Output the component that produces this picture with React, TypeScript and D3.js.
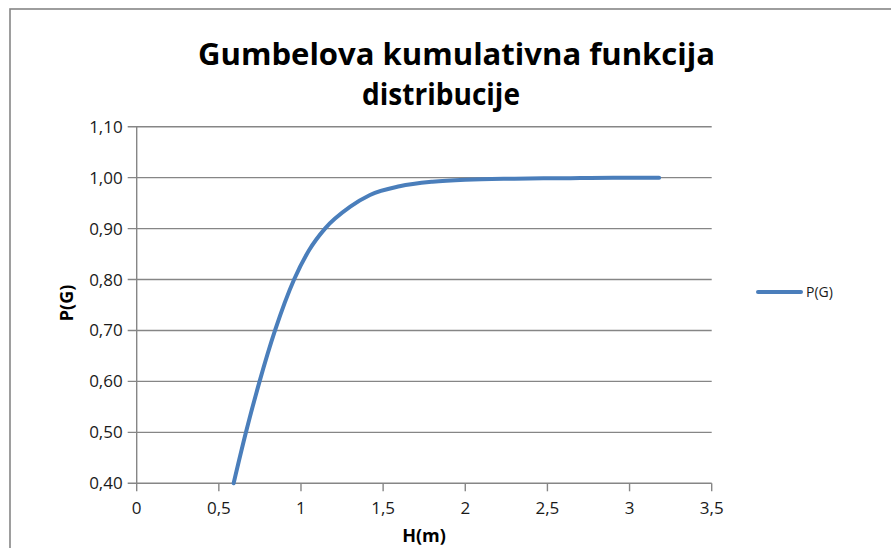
import React from "react";
import * as d3 from "d3";

const hValues = [0.59, 0.665, 0.748, 0.842, 0.958, 1.05, 1.146, 1.3, 1.42, 1.6, 1.8, 2.0, 2.3, 2.6, 2.9, 3.18];
const pValues = [0.4, 0.5, 0.6, 0.7, 0.8, 0.858, 0.9, 0.943, 0.966, 0.983, 0.992, 0.996, 0.998, 0.999, 1.0, 1.0];
const xTicks = [0, 0.5, 1, 1.5, 2, 2.5, 3, 3.5];
const yTicks = [0.4, 0.5, 0.6, 0.7, 0.8, 0.9, 1.0, 1.1];
const titleLines = ["Gumbelova kumulativna funkcija", "distribucije"];
const seriesName = "P(G)";
const xTitle = "H(m)";
const yTitle = "P(G)";

const W = 891;
const H = 548;
const left = 136.7;
const right = 711.7;
const top = 126.7;
const bottom = 483.3;

const fmtComma = (v: number, d: number) => v.toFixed(d).replace(".", ",");
const fmtX = (v: number) => String(v).replace(".", ",");

export default function App() {
  const x = d3.scaleLinear().domain([0, 3.5]).range([left, right]);
  const y = d3.scaleLinear().domain([0.4, 1.1]).range([bottom, top]);
  const pts = hValues.map((h, i) => [h, pValues[i]] as [number, number]);
  const line = d3
    .line<[number, number]>()
    .x((d) => x(d[0]))
    .y((d) => y(d[1]))
    .curve(d3.curveMonotoneX);
  const grid = "#868686";
  const font = "'Open Sans', 'DejaVu Sans', sans-serif";
  const textColor = "#1a1a1a";
  return (
    <svg
      width={W}
      height={H}
      style={{ position: "absolute", left: 0, top: 0, background: "#fff" }}
      fontFamily={font}
    >
      <rect x={0} y={0} width={W} height={H} fill="#fff" />
      <rect x={10} y={9} width={950} height={600} fill="none" stroke={grid} strokeWidth={1.6} />
      <text textAnchor="start" fontWeight="bold" fontSize={31} fill="#000">
        <tspan x={198} y={65} textLength={517} lengthAdjust="spacingAndGlyphs">{titleLines[0]}</tspan>
        <tspan x={362} y={105} textLength={158} lengthAdjust="spacingAndGlyphs">{titleLines[1]}</tspan>
      </text>
      {yTicks.map((t) => (
        <g key={"y" + t}>
          <line x1={left - 9} x2={right} y1={y(t)} y2={y(t)} stroke={grid} strokeWidth={1.4} />
          <text x={left - 14} y={y(t) + 6} textAnchor="end" fontSize={17} fill={textColor}>
            {fmtComma(t, 2)}
          </text>
        </g>
      ))}
      <line x1={left} x2={left} y1={top} y2={bottom} stroke={grid} strokeWidth={1.4} />
      {xTicks.map((t) => (
        <g key={"x" + t}>
          <line x1={x(t)} x2={x(t)} y1={bottom} y2={bottom + 8} stroke={grid} strokeWidth={1.4} />
          <text x={x(t)} y={bottom + 31} textAnchor="middle" fontSize={17} fill={textColor}>
            {fmtX(t)}
          </text>
        </g>
      ))}
      <path d={line(pts) || ""} fill="none" stroke="#4a7ebb" strokeWidth={4} strokeLinecap="round" />
      <text x={424} y={542} textAnchor="middle" fontWeight="bold" fontSize={18} fill="#000">
        {xTitle}
      </text>
      <text
        transform={`translate(73,303) rotate(-90)`}
        textAnchor="middle"
        fontWeight="bold"
        fontSize={18}
        fill="#000"
      >
        {yTitle}
      </text>
      <line x1={758} x2={801} y1={292} y2={292} stroke="#4a7ebb" strokeWidth={4} strokeLinecap="round" />
      <text x={806} y={297} fontSize={14} fill={textColor}>
        {seriesName}
      </text>
    </svg>
  );
}
